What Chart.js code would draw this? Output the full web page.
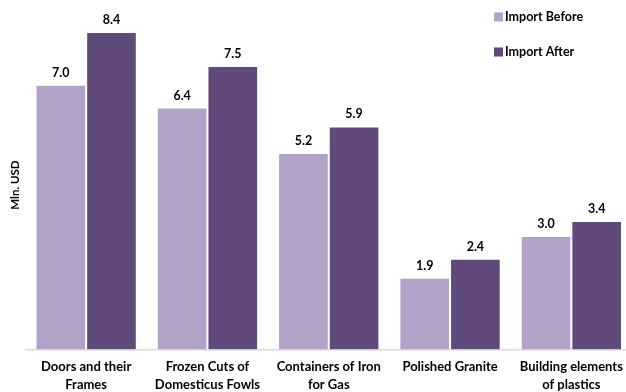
<!DOCTYPE html>
<html>
<head>
<meta charset="utf-8">
<script src="https://cdn.jsdelivr.net/npm/chart.js@4/dist/chart.umd.min.js"></script>
<style>
  html, body { margin: 0; padding: 0; background: #fff; overflow: hidden; }
  #wrap { position: relative; width: 640px; height: 392px; }
</style>
</head>
<body>
<div id="wrap"><canvas id="chart"></canvas></div>
<script>
// Import values by product group, in Mln. USD
const categories = [
  ['Doors and their', 'Frames'],
  ['Frozen Cuts of', 'Domesticus Fowls'],
  ['Containers of Iron', 'for Gas'],
  ['Polished Granite'],
  ['Building elements', 'of plastics']
];
const importBefore = [7.0, 6.4, 5.2, 1.9, 3.0];
const importAfter  = [8.4, 7.5, 5.9, 2.4, 3.4];
const seriesNames  = ['Import Before', 'Import After'];

const FONT = 'Lato, "Open Sans", sans-serif';

// Value labels above each bar
const valueLabels = {
  id: 'valueLabels',
  afterDatasetsDraw(chart) {
    const ctx = chart.ctx;
    ctx.save();
    ctx.font = 'bold 12.5px ' + FONT;
    ctx.fillStyle = '#000';
    ctx.textAlign = 'center';
    ctx.textBaseline = 'middle';
    chart.data.datasets.forEach((ds, i) => {
      chart.getDatasetMeta(i).data.forEach((bar, j) => {
        ctx.fillText(ds.data[j].toFixed(1), bar.x, bar.y - 12);
      });
    });
    ctx.restore();
  }
};

// Stacked legend in the top-right corner
const cornerLegend = {
  id: 'cornerLegend',
  afterDraw(chart) {
    const ctx = chart.ctx;
    ctx.save();
    ctx.font = 'bold 12.5px ' + FONT;
    ctx.textAlign = 'left';
    ctx.textBaseline = 'middle';
    chart.data.datasets.forEach((ds, i) => {
      const cy = 17 + i * 35;
      ctx.fillStyle = ds.backgroundColor;
      ctx.fillRect(494, cy - 4.5, 9, 9);
      ctx.fillStyle = '#000';
      ctx.fillText(ds.label, 505, cy);
    });
    ctx.restore();
  }
};

new Chart(document.getElementById('chart'), {
  type: 'bar',
  data: {
    labels: categories,
    datasets: [
      {
        label: seriesNames[0],
        data: importBefore,
        backgroundColor: '#B3A2C7',
        borderColor: '#ffffff',
        borderWidth: 1,
        borderSkipped: 'bottom'
      },
      {
        label: seriesNames[1],
        data: importAfter,
        backgroundColor: '#604A7B',
        borderColor: '#ffffff',
        borderWidth: 1,
        borderSkipped: 'bottom'
      }
    ]
  },
  options: {
    responsive: true,
    maintainAspectRatio: false,
    animation: false,
    layout: { padding: { top: 20.6, right: 8, left: 0, bottom: 0 } },
    datasets: { bar: { categoryPercentage: 0.835, barPercentage: 1.0 } },
    plugins: {
      legend: { display: false },
      tooltip: { enabled: false }
    },
    scales: {
      x: {
        grid: { display: false, drawTicks: false },
        border: { display: true, color: '#d9d9d9', width: 1.5 },
        ticks: {
          color: '#000',
          font: { family: FONT, size: 13, weight: 'bold', lineHeight: 1.4 },
          padding: 8,
          maxRotation: 0,
          autoSkip: false
        },
        afterFit(scale) { scale.height = 42.5; }
      },
      y: {
        min: 0,
        max: 8.7,
        grid: { display: false, drawTicks: false },
        border: { display: false },
        ticks: { display: false },
        title: {
          display: true,
          text: 'Mln. USD',
          color: '#000',
          font: { family: FONT, size: 11.5, weight: 'bold', lineHeight: 1.2 },
          padding: { top: 8, bottom: 0 }
        },
        afterFit(scale) { scale.width = 25.5; }
      }
    }
  },
  plugins: [valueLabels, cornerLegend]
});
</script>
</body>
</html>
